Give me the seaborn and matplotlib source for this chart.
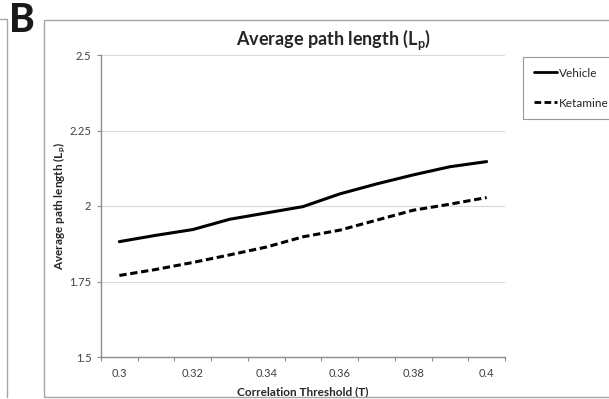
import matplotlib
matplotlib.use("Agg")
import matplotlib.pyplot as plt
import seaborn as sns
import pandas as pd
from matplotlib.lines import Line2D

sns.set_theme(style="white")
plt.rcParams['font.family'] = ['Lato', 'DejaVu Sans']
plt.rcParams['mathtext.fontset'] = 'custom'
plt.rcParams['mathtext.rm'] = 'Lato'
plt.rcParams['mathtext.bf'] = 'Lato:bold'

# data
seuils = [0.30, 0.31, 0.32, 0.33, 0.34, 0.35, 0.36, 0.37, 0.38, 0.39, 0.40]
vehicle = [1.882, 1.903, 1.922, 1.956, 1.977, 1.998, 2.040, 2.073, 2.103, 2.130, 2.147]
ketamine = [1.770, 1.790, 1.813, 1.838, 1.864, 1.898, 1.920, 1.953, 1.986, 2.006, 2.028]
groupes = ["Vehicle", "Ketamine"]
yticks = [1.5, 1.75, 2.0, 2.25, 2.5]
ylabels = ["1.5", "1.75", "2", "2.25", "2.5"]
xticks = [0.30, 0.32, 0.34, 0.36, 0.38, 0.40]
xlabels = ["0.3", "0.32", "0.34", "0.36", "0.38", "0.4"]

df = pd.DataFrame({
    "T": seuils * 2,
    "Lp": vehicle + ketamine,
    "groupe": [groupes[0]] * len(seuils) + [groupes[1]] * len(seuils),
})

fig = plt.figure(figsize=(6.09, 3.99), dpi=100)
ax = fig.add_axes([101 / 609, 1 - 357 / 399, 404 / 609, 302 / 399])

sns.lineplot(data=df, x="T", y="Lp", style="groupe", style_order=groupes,
             dashes={"Vehicle": "", "Ketamine": (2.4, 1.2)}, color="black",
             linewidth=2.2, legend=False, ax=ax)

ax.set_xlim(0.295, 0.405)
ax.set_ylim(1.5, 2.5)
ax.set_yticks(yticks)
ax.set_yticklabels(ylabels)
ax.set_xticks(xticks)
ax.set_xticklabels(xlabels)
ax.set_xticks([0.295 + 0.01 * i for i in range(12)], minor=True)
ax.tick_params(axis='x', which='major', length=0, labelsize=8, colors='#404040', pad=8)
ax.tick_params(axis='x', which='minor', length=3, color='#8c8c8c', width=0.8, direction='out', bottom=True)
ax.tick_params(axis='y', length=3, color='#8c8c8c', width=0.8, direction='out', left=True,
               labelsize=8, labelcolor='#404040', pad=4)
ax.yaxis.grid(True, color='#d9d9d9', linewidth=0.8)
ax.xaxis.grid(False)
for s in ['top', 'right']:
    ax.spines[s].set_visible(False)
for s in ['left', 'bottom']:
    ax.spines[s].set_color('#8c8c8c')
    ax.spines[s].set_linewidth(1.0)

ax.set_xlabel("Correlation Threshold (T)", fontsize=8.5, fontweight='bold', labelpad=5)
ax.set_ylabel(r"Average path length ($\mathbf{L_p}$)", fontsize=8.5, fontweight='bold')
ax.yaxis.set_label_coords((68 - 101) / 404, 0.5)

fig.text(333 / 609, 1 - 40 / 399, r"Average path length ($\mathbf{L_p}$)", ha='center', va='center',
         fontsize=13, fontweight='bold')

# legend
handles = [Line2D([], [], color='black', linewidth=2.0),
           Line2D([], [], color='black', linewidth=2.0, dashes=(2.4, 1.2))]
leg = fig.legend(handles, groupes, loc='upper left', bbox_to_anchor=(523 / 609, 1 - 57 / 399),
                 frameon=True, fancybox=False, fontsize=8.5, handlelength=2.0, handletextpad=0.15,
                 labelspacing=1.6, borderpad=0.9, borderaxespad=0, edgecolor='#7f7f7f')
leg.get_frame().set_linewidth(0.8)

# cadre du panneau et reste du panneau voisin
fig.add_artist(plt.Rectangle((44 / 609, 1 - 397 / 399), 580 / 609, 377 / 399, transform=fig.transFigure,
                             fill=False, edgecolor='#a6a6a6', linewidth=1.0))
fig.add_artist(Line2D([0, 7 / 609, 7 / 609], [1 - 19 / 399, 1 - 19 / 399, 1 - 397 / 399],
                      transform=fig.transFigure, color='#a6a6a6', linewidth=1.0))
fig.text(9 / 609, 1 - 21 / 399, "B", ha='left', va='center', fontsize=28, fontweight='black',
         color='#1a1a1a')

fig.savefig("out.png", dpi=100)
